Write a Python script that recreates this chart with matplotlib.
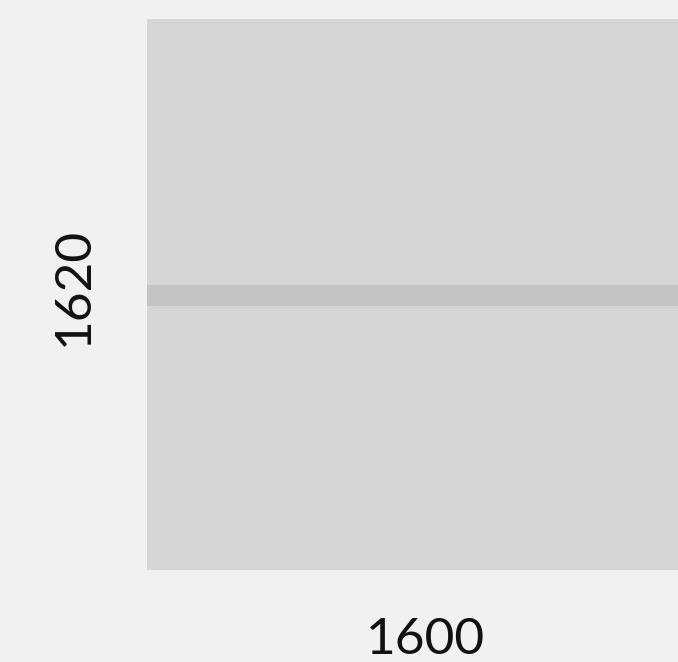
import matplotlib
matplotlib.use('Agg')
import matplotlib.pyplot as plt

# placeholder size shown on the chart
width_label = ['1600']
height_label = ['1620']
x_range = [0, 1600]
y_range = [0, 1620]
band = [776, 838]  # darker strip across the middle

fig = plt.figure(figsize=(6.78, 6.62), dpi=100)
fig.patch.set_facecolor('#f1f1f1')

ax = fig.add_axes([147 / 678, 92 / 662, 531 / 678, 551 / 662])
ax.set_facecolor('#d6d6d6')
ax.set_xlim(x_range)
ax.set_ylim(y_range)
ax.axhspan(band[0], band[1], color='#c4c4c4', lw=0)
ax.set_xticks([])
ax.set_yticks([])
for s in ax.spines.values():
    s.set_visible(False)

fig.text(425 / 678, 1 - 640 / 662, width_label[0], ha='center', va='center',
         fontsize=37, family=['Lato', 'DejaVu Sans'], color='#111111')
fig.text(74 / 678, 1 - 286 / 662, height_label[0], ha='center', va='center',
         rotation=90, fontsize=37, family=['Lato', 'DejaVu Sans'], color='#111111')

fig.savefig('out.png', dpi=100, facecolor=fig.get_facecolor())
